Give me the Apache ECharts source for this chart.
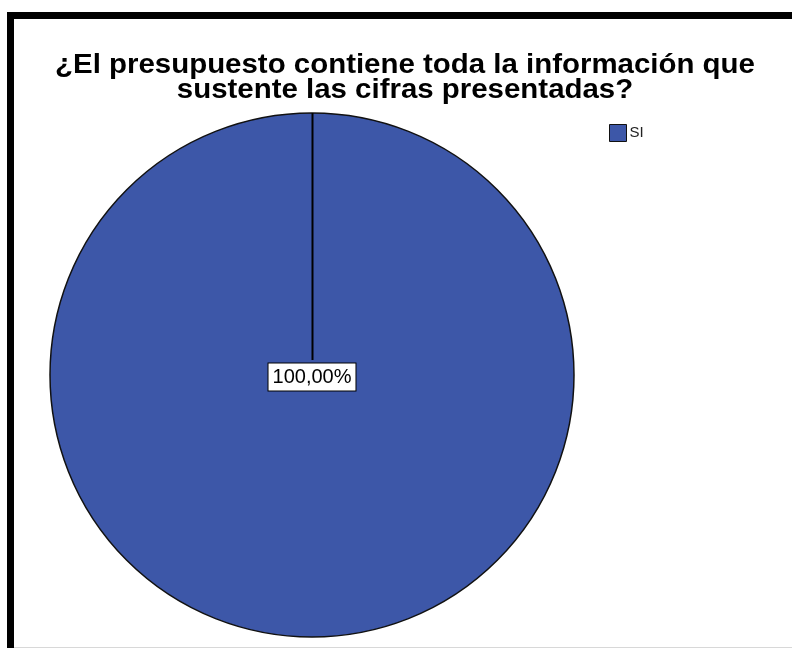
<!DOCTYPE html>
<html>
<head>
<meta charset="utf-8">
<script src="https://cdn.jsdelivr.net/npm/echarts@6/dist/echarts.min.js"></script>
<style>
  html, body { margin: 0; padding: 0; background: #fff; }
  #chart { width: 792px; height: 648px; }
</style>
</head>
<body>
<div id="chart"></div>
<script>
// Survey answers and their counts
const categories = ['SI'];
const counts = [100];
const titleLines = ['¿El presupuesto contiene toda la información que', 'sustente las cifras presentadas?'];

const PIE_CX = 312;
const PIE_CY = 375;
const PIE_R = 262;
const FILL = '#3d57a8';
const FONT = 'Liberation Sans, Arial, sans-serif';

const chart = echarts.init(document.getElementById('chart'), null, { renderer: 'canvas' });

// heading, slightly widened bold sans text, one element per line
const titleGraphics = titleLines.map((line, i) => ({
  type: 'text',
  z: 10,
  x: 405,
  y: 66 + i * 25,
  scaleX: 1.09,
  style: {
    text: line,
    font: 'bold 27px ' + FONT,
    fill: '#000',
    align: 'center',
    verticalAlign: 'middle'
  }
}));

chart.setOption({
  animation: false,
  backgroundColor: '#ffffff',
  legend: {
    data: categories,
    left: 604,
    top: 119,
    orient: 'vertical',
    icon: 'rect',
    itemWidth: 17,
    itemHeight: 17,
    itemGap: 4,
    itemStyle: { borderColor: '#111', borderWidth: 1 },
    textStyle: {
      fontFamily: FONT,
      fontSize: 15,
      color: '#222',
      padding: [0, 0, 0, -2]
    }
  },
  series: [{
    type: 'pie',
    center: [PIE_CX, PIE_CY],
    radius: PIE_R,
    startAngle: 90,
    clockwise: true,
    silent: true,
    data: categories.map((c, i) => ({ name: c, value: counts[i] })),
    itemStyle: { color: FILL, borderColor: '#111', borderWidth: 1.5 },
    label: {
      show: true,
      position: 'center',
      formatter: p => p.percent.toFixed(2).replace('.', ',') + '%',
      fontFamily: FONT,
      fontSize: 20,
      color: '#000',
      backgroundColor: '#fff',
      borderColor: '#000',
      borderWidth: 1,
      padding: [4, 4, 3, 4],
      offset: [0, 2]
    },
    labelLine: { show: false },
    emphasis: { disabled: true }
  }],
  graphic: titleGraphics.concat([
    // slice edge running from the top of the pie to its centre
    {
      type: 'line',
      z: 10,
      shape: { x1: PIE_CX + 0.5, y1: PIE_CY - PIE_R, x2: PIE_CX + 0.5, y2: PIE_CY - 15 },
      style: { stroke: '#000', lineWidth: 2 }
    },
    // outer frame
    {
      type: 'rect',
      z: 10,
      shape: { x: 10.5, y: 15.5, width: 900, height: 900 },
      style: { fill: 'none', stroke: '#000', lineWidth: 7 }
    },
    {
      type: 'line',
      z: 10,
      shape: { x1: 14, y1: 647.5, x2: 792, y2: 647.5 },
      style: { stroke: '#d8d8d8', lineWidth: 1 }
    }
  ])
});
</script>
</body>
</html>
